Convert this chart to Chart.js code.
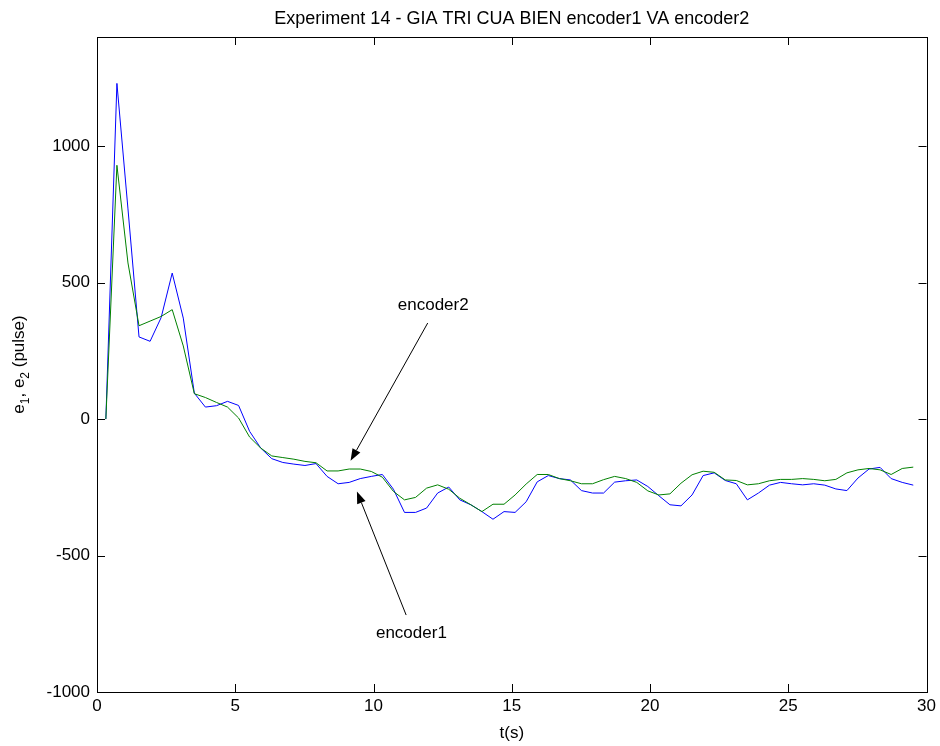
<!DOCTYPE html>
<html>
<head>
<meta charset="utf-8">
<script src="https://cdn.jsdelivr.net/npm/chart.js@4.4.1/dist/chart.umd.min.js"></script>
<style>
  html, body { margin: 0; padding: 0; background: #fff; }
  canvas { display: block; }
</style>
</head>
<body>
<canvas id="encChart" width="940" height="746"></canvas>
<script>
// sample times (s)
const times = [0.32, 0.72, 1.12, 1.52, 1.92, 2.32, 2.72, 3.12, 3.52, 3.92,
    4.32, 4.72, 5.12, 5.52, 5.92, 6.32, 6.72, 7.12, 7.52, 7.92,
    8.32, 8.72, 9.12, 9.52, 9.92, 10.32, 10.72, 11.12, 11.52, 11.92,
    12.32, 12.72, 13.12, 13.52, 13.92, 14.32, 14.72, 15.12, 15.52, 15.92,
    16.32, 16.72, 17.12, 17.52, 17.92, 18.32, 18.72, 19.12, 19.52, 19.92,
    20.32, 20.72, 21.12, 21.52, 21.92, 22.32, 22.72, 23.12, 23.52, 23.92,
    24.32, 24.72, 25.12, 25.52, 25.92, 26.32, 26.72, 27.12, 27.52, 27.92,
    28.32, 28.72, 29.12, 29.52];

const encoder1 = [0, 1230, 770, 301, 285, 372, 535, 370, 95, 44,
    49, 65, 50, -45, -106, -145, -159, -165, -170, -163,
    -210, -237, -232, -218, -210, -203, -257, -342, -342, -326,
    -271, -249, -296, -314, -339, -367, -339, -342, -303, -230,
    -207, -218, -223, -262, -271, -271, -231, -226, -223, -247,
    -281, -314, -318, -278, -207, -197, -225, -237, -296, -271,
    -242, -232, -237, -241, -237, -242, -256, -262, -216, -183,
    -177, -218, -232, -242];

const encoder2 = [0, 930, 572, 342, 359, 376, 401, 268, 93, 79,
    61, 44, 4, -66, -106, -135, -141, -147, -155, -160,
    -190, -190, -183, -183, -192, -213, -265, -296, -287, -253,
    -241, -257, -290, -314, -339, -312, -312, -278, -238, -203,
    -203, -218, -226, -237, -237, -222, -210, -218, -232, -263,
    -278, -274, -235, -204, -191, -195, -223, -225, -241, -237,
    -226, -221, -221, -218, -221, -226, -221, -197, -186, -181,
    -186, -203, -181, -176];

const xTicks = [0, 5, 10, 15, 20, 25, 30];
const yTicks = [-1000, -500, 0, 500, 1000];

const titleText = 'Experiment 14 - GIA TRI CUA BIEN encoder1 VA encoder2';
const FONT = '"Liberation Sans", Arial, sans-serif';

// text + arrow annotations in data units: [label, textX, textY, tailX, tailY, tipX, tipY]
const notes = [
    ['encoder2', 12.16, 398, 11.96, 352, 9.17, -153],
    ['encoder1', 11.37, -802, 11.18, -718, 9.40, -265]
];

function toPoints(vals) {
    return vals.map((v, i) => ({ x: times[i], y: v }));
}

function drawArrow(ctx, x1, y1, x2, y2) {
    const ang = Math.atan2(y2 - y1, x2 - x1);
    const len = 12, half = 4.5;
    const bx = x2 - len * Math.cos(ang), by = y2 - len * Math.sin(ang);
    ctx.beginPath();
    ctx.moveTo(x1, y1);
    ctx.lineTo(bx, by);
    ctx.stroke();
    ctx.beginPath();
    ctx.moveTo(x2, y2);
    ctx.lineTo(bx + half * Math.sin(ang), by - half * Math.cos(ang));
    ctx.lineTo(bx - half * Math.sin(ang), by + half * Math.cos(ang));
    ctx.closePath();
    ctx.fill();
}

const matlabFrame = {
    id: 'matlabFrame',
    afterDraw(chart) {
        const ctx = chart.ctx;
        const a = chart.chartArea;
        const xs = chart.scales.x, ys = chart.scales.y;
        const tl = 8;
        ctx.save();
        ctx.strokeStyle = '#000';
        ctx.fillStyle = '#000';
        ctx.lineWidth = 1;
        ctx.strokeRect(Math.round(a.left) + 0.5, Math.round(a.top) + 0.5,
            Math.round(a.right - a.left), Math.round(a.bottom - a.top));

        ctx.beginPath();
        xTicks.forEach(t => {
            const px = Math.round(xs.getPixelForValue(t)) + 0.5;
            ctx.moveTo(px, a.bottom); ctx.lineTo(px, a.bottom - tl);
            ctx.moveTo(px, a.top); ctx.lineTo(px, a.top + tl);
        });
        yTicks.forEach(t => {
            const py = Math.round(ys.getPixelForValue(t)) + 0.5;
            ctx.moveTo(a.left, py); ctx.lineTo(a.left + tl, py);
            ctx.moveTo(a.right, py); ctx.lineTo(a.right - tl, py);
        });
        ctx.stroke();

        // title
        ctx.font = '18px ' + FONT;
        ctx.textAlign = 'center';
        ctx.textBaseline = 'alphabetic';
        ctx.fillText(titleText, (a.left + a.right) / 2, 24);

        // x label
        ctx.font = '17px ' + FONT;
        ctx.fillText('t(s)', (a.left + a.right) / 2, 738);

        // y label with subscripts, rotated
        ctx.save();
        ctx.translate(24, (a.top + a.bottom) / 2);
        ctx.rotate(-Math.PI / 2);
        const parts = [['e', 0], ['1', 1], [', e', 0], ['2', 1], [' (pulse)', 0]];
        let total = 0;
        parts.forEach(p => {
            ctx.font = (p[1] ? '12px ' : '17px ') + FONT;
            total += ctx.measureText(p[0]).width;
        });
        let cx = -total / 2;
        ctx.textAlign = 'left';
        parts.forEach(p => {
            ctx.font = (p[1] ? '12px ' : '17px ') + FONT;
            ctx.fillText(p[0], cx, p[1] ? 5 : 0);
            cx += ctx.measureText(p[0]).width;
        });
        ctx.restore();

        // annotations
        ctx.font = '17px ' + FONT;
        ctx.textAlign = 'center';
        notes.forEach(n => {
            ctx.fillText(n[0], xs.getPixelForValue(n[1]), ys.getPixelForValue(n[2]));
            drawArrow(ctx, xs.getPixelForValue(n[3]), ys.getPixelForValue(n[4]),
                xs.getPixelForValue(n[5]), ys.getPixelForValue(n[6]));
        });
        ctx.restore();
    }
};

new Chart(document.getElementById('encChart').getContext('2d'), {
    type: 'line',
    data: {
        datasets: [{
            label: 'encoder1',
            data: toPoints(encoder1),
            borderColor: 'rgb(0, 0, 255)',
            borderWidth: 1,
            pointRadius: 0,
            tension: 0,
            order: 2
        }, {
            label: 'encoder2',
            data: toPoints(encoder2),
            borderColor: 'rgb(0, 128, 0)',
            borderWidth: 1,
            pointRadius: 0,
            tension: 0,
            order: 1
        }]
    },
    options: {
        responsive: false,
        animation: false,
        devicePixelRatio: 1,
        layout: { padding: { left: 0, top: 37, right: 11, bottom: 0 } },
        plugins: {
            legend: { display: false },
            tooltip: { enabled: false }
        },
        scales: {
            x: {
                type: 'linear',
                min: 0,
                max: 30,
                afterBuildTicks: s => { s.ticks = xTicks.map(v => ({ value: v })); },
                afterFit: s => { s.height = 54; },
                grid: { display: false, drawTicks: false },
                border: { display: false },
                ticks: { color: '#000', font: { family: FONT, size: 17 }, padding: 4, maxRotation: 0,
                    callback: v => String(v) }
            },
            y: {
                type: 'linear',
                min: -1000,
                max: 1400,
                afterBuildTicks: s => { s.ticks = yTicks.map(v => ({ value: v })); },
                afterFit: s => { s.width = 97; },
                grid: { display: false, drawTicks: false },
                border: { display: false },
                ticks: { color: '#000', font: { family: FONT, size: 17 }, padding: 7,
                    callback: v => String(v) }
            }
        }
    },
    plugins: [matlabFrame]
});
</script>
</body>
</html>
